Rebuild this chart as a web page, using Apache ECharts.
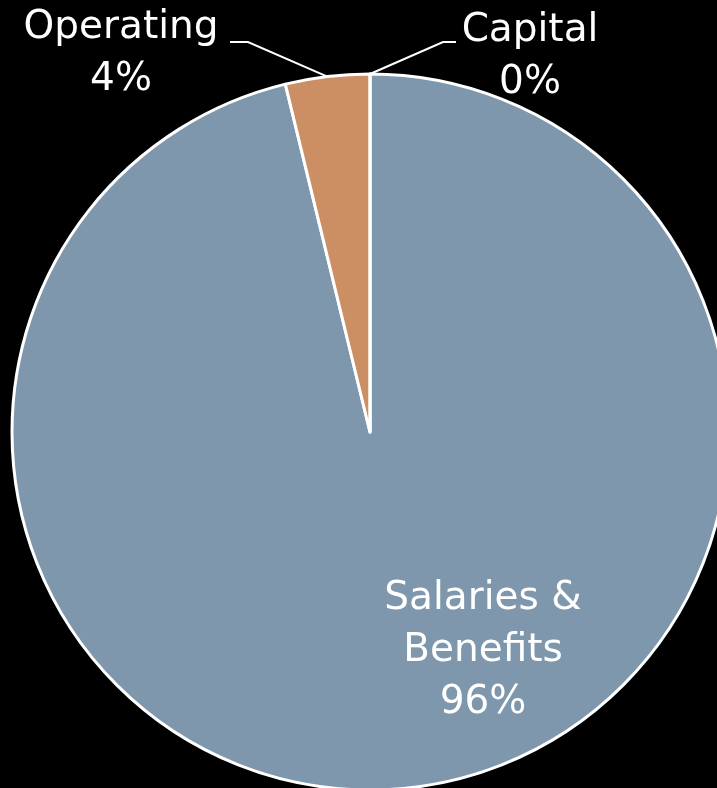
<!DOCTYPE html>
<html>
<head>
<meta charset="utf-8">
<script src="https://cdn.jsdelivr.net/npm/echarts@6/dist/echarts.min.js"></script>
<style>
    html, body { margin: 0; padding: 0; background: #000; }
    #chart { width: 717px; height: 788px; }
</style>
</head>
<body>
<div id="chart"></div>
<script>
    // 数据
    var categories = ['Salaries &\nBenefits', 'Operating', 'Capital'];
    var values = [96.2, 3.8, 0];
    var colors = ['#7f97ad', '#cc8e63', '#a5a5a5'];

    var myChart = echarts.init(document.getElementById('chart'));

    myChart.setOption({
        backgroundColor: '#000',
        animation: false,
        series: [{
            type: 'pie',
            center: [370, 432],
            radius: 358,
            startAngle: 90,
            clockwise: true,
            percentPrecision: 0,
            itemStyle: {
                borderColor: '#fff',
                borderWidth: 3
            },
            label: {
                show: true,
                formatter: '{b}\n{d}%',
                color: '#fff',
                fontFamily: 'DejaVu Sans',
                fontSize: 39,
                lineHeight: 52,
                align: 'center',
                overflow: 'none'
            },
            labelLine: {
                show: true,
                lineStyle: { color: '#fff', width: 2 }
            },
            labelLayout: function (p) {
                var edge = p.labelLinePoints ? p.labelLinePoints[0] : [370, 74];
                if (p.dataIndex === 0) {
                    return { x: 483, y: 651, align: 'center', verticalAlign: 'middle' };
                }
                if (p.dataIndex === 1) {
                    return {
                        x: 121, y: 54, width: 300, align: 'center', verticalAlign: 'middle',
                        labelLinePoints: [edge, [248, 42], [230, 42]]
                    };
                }
                return {
                    x: 530, y: 57, width: 300, align: 'center', verticalAlign: 'middle',
                    labelLinePoints: [edge, [443, 42], [456, 42]]
                };
            },
            data: categories.map(function (c, i) {
                var d = { name: c, value: values[i], itemStyle: { color: colors[i] } };
                if (i === 0) {
                    d.label = { position: 'inside' };
                    d.labelLine = { show: false };
                }
                return d;
            })
        }]
    });
</script>
</body>
</html>
